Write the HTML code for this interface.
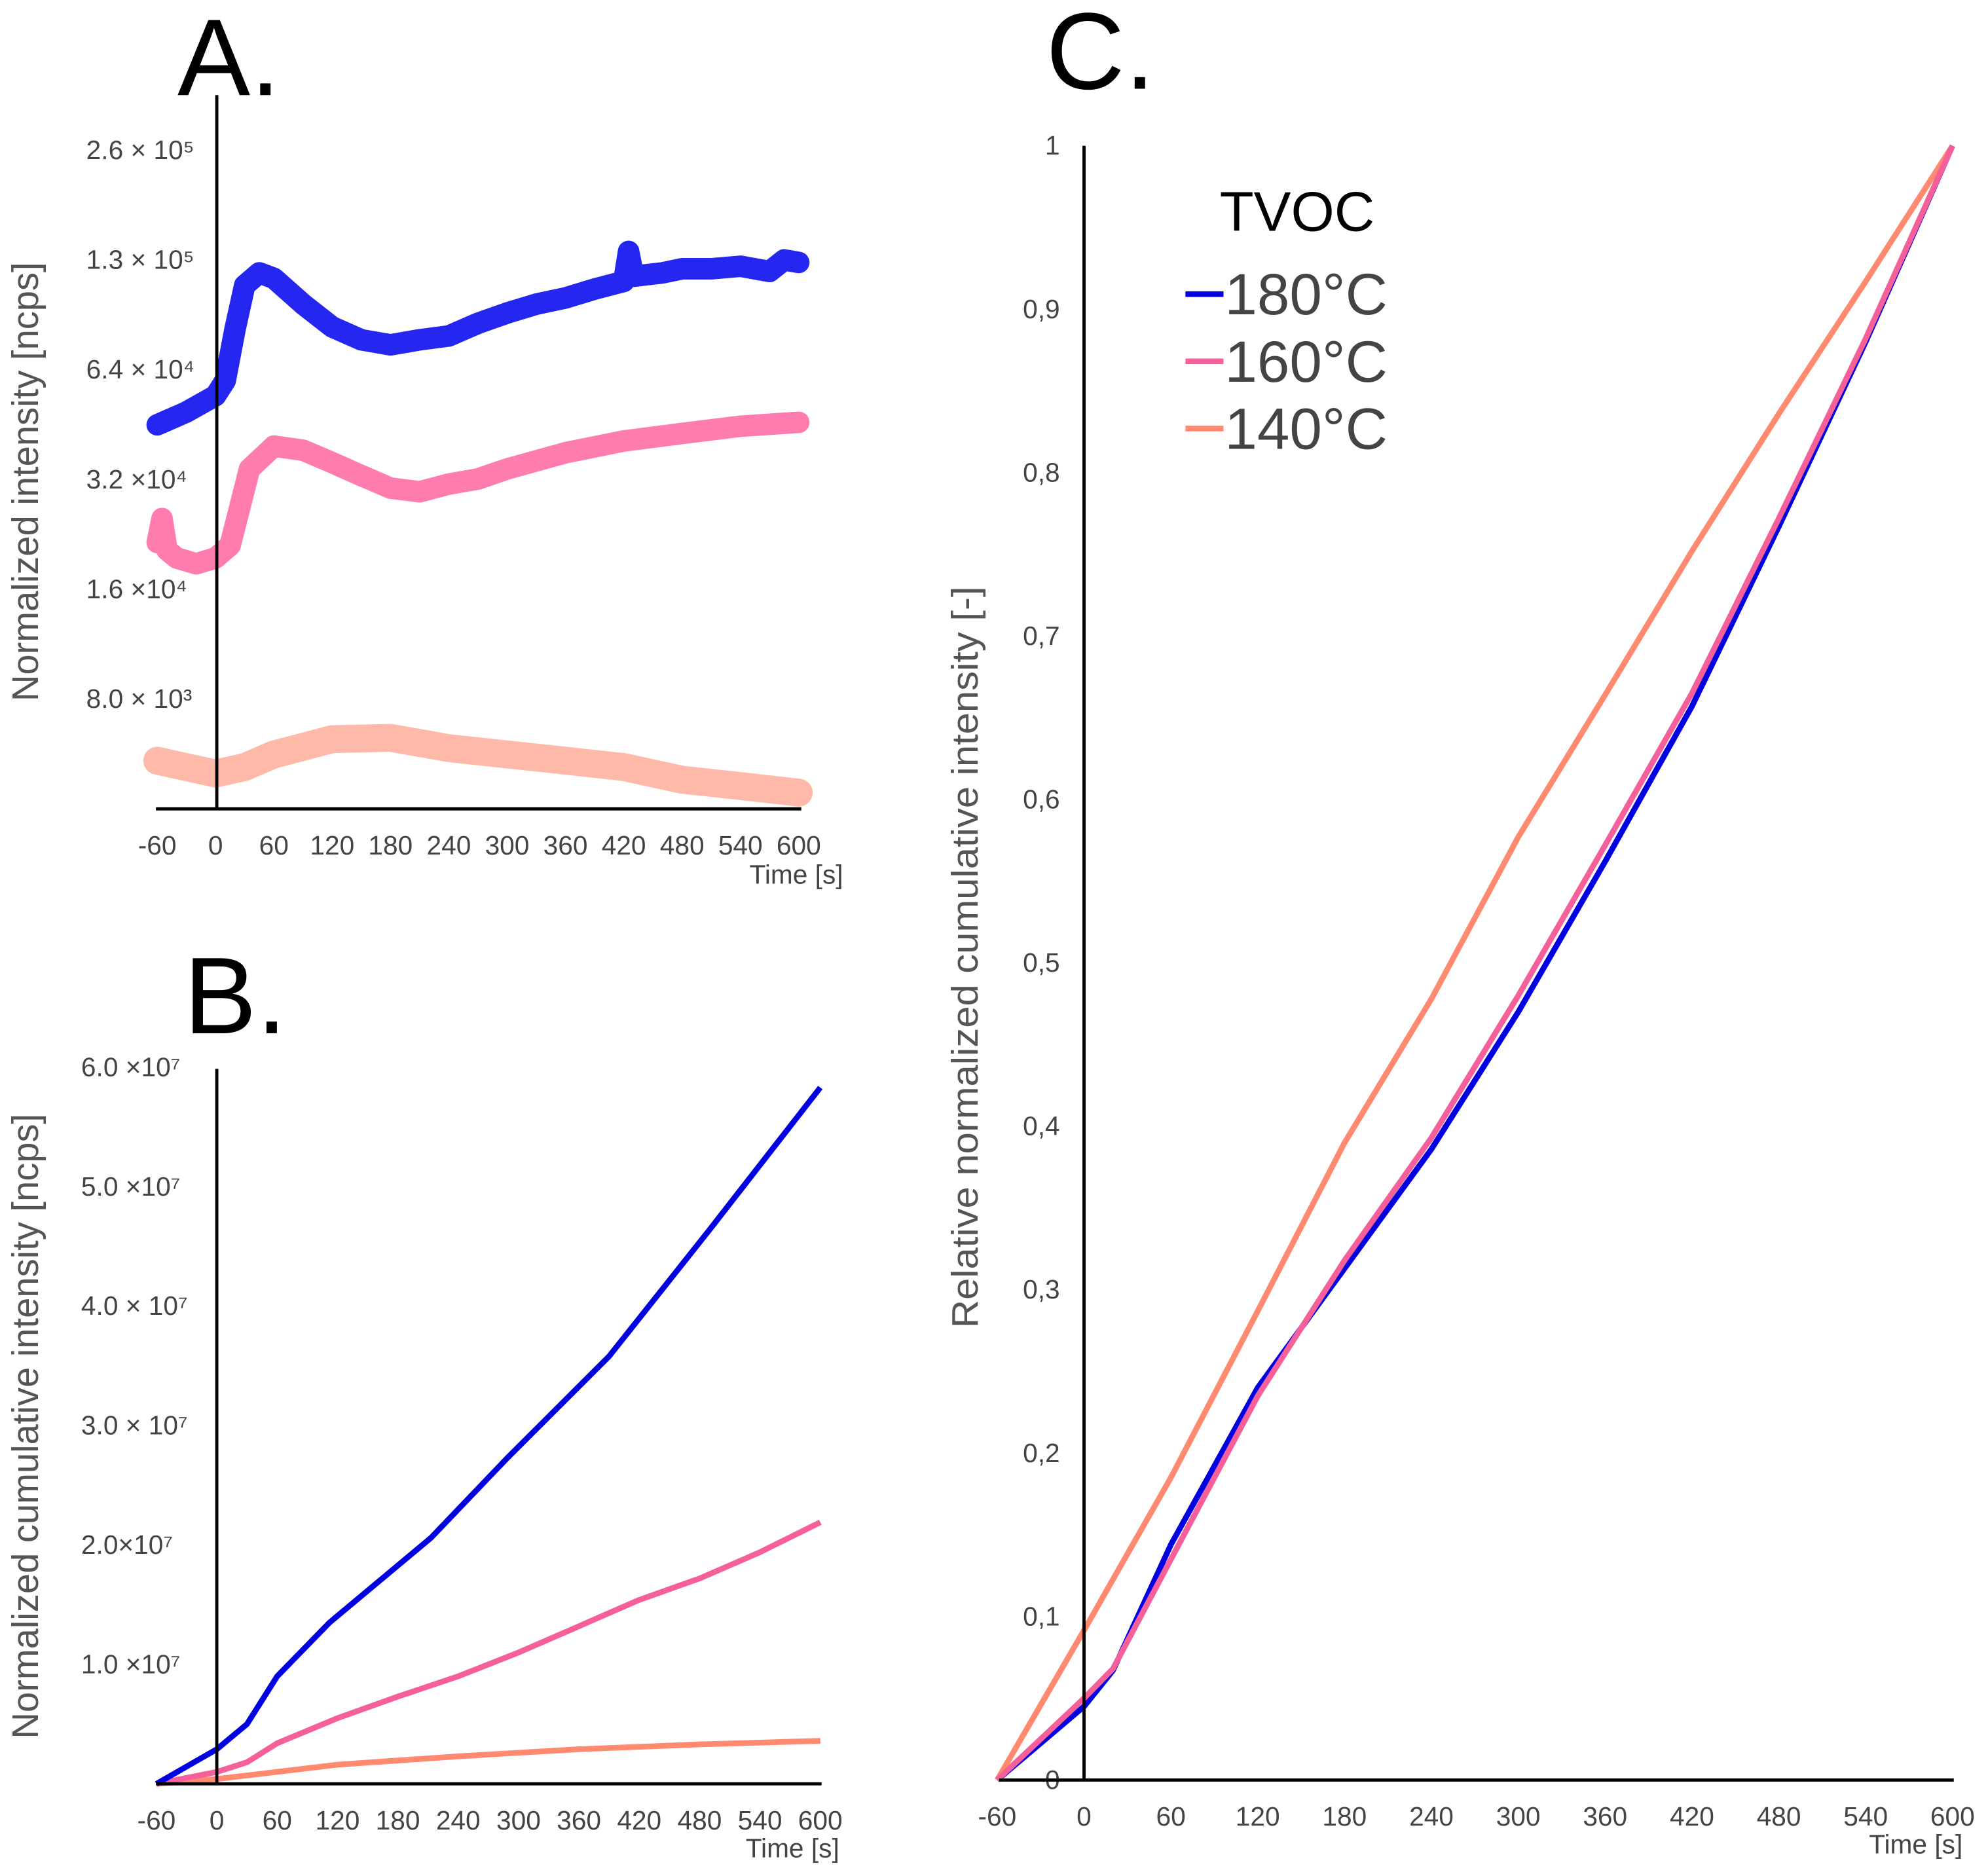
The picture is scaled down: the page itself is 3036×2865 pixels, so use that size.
<!DOCTYPE html>
<html><head><meta charset="utf-8"><style>
html,body{margin:0;padding:0;background:#fff}
svg{display:block}
text{font-family:"Liberation Sans",sans-serif}
.tk{fill:#444;font-size:21px}
</style></head><body>
<svg id="fig" width="3036" height="2865" viewBox="0 0 1568 1479.7" preserveAspectRatio="none" xmlns="http://www.w3.org/2000/svg">
<g id="A"></g>
<g id="B"></g>
<g id="C"></g>
</svg>
<script>
// ---- Panel A data (log scale, ncps) ----
const aBlueT=[-60,-30,0,10,20,30,45,60,90,120,150,180,210,240,270,300,330,360,390,420,425,430,460,480,510,540,570,585,600];
const aBlueV=[45200,49000,54300,59800,82400,109000,118000,114000,96800,83800,77300,74900,77300,79200,85800,91500,96800,100700,106500,111700,135000,115400,118000,121000,121000,123000,119000,128000,126000];
const aPinkT=[-60,-55,-50,-40,-20,0,15,25,35,60,90,120,150,180,210,240,270,300,360,420,480,540,600];
const aPinkV=[21500,25000,20500,19500,18800,19500,21100,26900,34200,39500,38500,35600,32800,30300,29600,31100,32100,34200,37900,40800,42800,44800,45900];
const aSalT=[-60,0,30,60,120,180,240,300,360,420,480,540,600];
const aSalV=[5420,5000,5210,5640,6210,6260,5870,5640,5420,5210,4810,4620,4430];
const aYTicks=["2.6 × 10⁵","1.3 × 10⁵","6.4 × 10⁴","3.2 ×10⁴","1.6 ×10⁴","8.0 × 10³"];
const aYVals=[256000,128000,64000,32000,16000,8000];
// ---- Panel B data (ncps) ----
const bBlueT=[-60,0,30,60,112,213,289,390,490,600];
const bBlueV=[0,0.29e7,0.5e7,0.9e7,1.35e7,2.06e7,2.73e7,3.58e7,4.64e7,5.83e7];
const bPinkT=[-60,0,30,60,120,180,240,300,360,420,480,540,600];
const bPinkV=[0,0.1e7,0.18e7,0.34e7,0.55e7,0.73e7,0.9e7,1.1e7,1.32e7,1.54e7,1.72e7,1.94e7,2.19e7];
const bSalT=[-60,0,120,240,360,480,600];
const bSalV=[0,0.04e7,0.16e7,0.23e7,0.29e7,0.33e7,0.36e7];
const bYTicks=["6.0 ×10⁷","5.0 ×10⁷","4.0 × 10⁷","3.0 × 10⁷","2.0×10⁷","1.0 ×10⁷"];
const bYVals=[6e7,5e7,4e7,3e7,2e7,1e7];
// ---- Panel C data (relative) ----
const cT=[-60,0,20,60,120,180,240,300,360,420,480,540,600];
const c180=[0,0.045,0.067,0.144,0.24,0.313,0.386,0.47,0.562,0.657,0.767,0.88,1];
const c160=[0,0.05,0.068,0.135,0.235,0.318,0.393,0.48,0.572,0.665,0.772,0.882,1];
const cSalT=[-60,0,60,120,180,240,300,360,420,480,540,600];
const c140=[0,0.0916,0.185,0.287,0.39,0.478,0.577,0.664,0.752,0.836,0.917,1];
const cYTicks=["1","0,9","0,8","0,7","0,6","0,5","0,4","0,3","0,2","0,1","0"];
const cYVals=[1,0.9,0.8,0.7,0.6,0.5,0.4,0.3,0.2,0.1,0];
const xTicks=[-60,0,60,120,180,240,300,360,420,480,540,600];

const NS="http://www.w3.org/2000/svg";
function mk(parent,tag,attrs,txt){const e=document.createElementNS(NS,tag);for(const k in attrs)e.setAttribute(k,attrs[k]);if(txt!==undefined)e.textContent=txt;parent.appendChild(e);return e;}
function pts(T,V,fx,fy){return T.map((t,i)=>fx(t).toFixed(1)+","+fy(V[i]).toFixed(1)).join(" ");}

// Panel A
const A=document.getElementById('A');
const axA=t=>170+t*460/600;
const ayA=v=>638-86.6*Math.log2(v/4000);
let e;
e=mk(A,'text',{x:140,y:75,'font-size':86},'A.');


e=mk(A,'text',{transform:'translate(30,380) rotate(-90)','text-anchor':'middle','font-size':29,fill:'#555'},'Normalized intensity [ncps]');


aYTicks.forEach((s,i)=>{e=mk(A,'text',{x:68,y:ayA(aYVals[i])+7,class:'tk'},s);

});
xTicks.forEach(t=>{e=mk(A,'text',{x:axA(t),y:674,class:'tk','text-anchor':'middle'},String(t));

});
e=mk(A,'text',{x:665,y:697,class:'tk','text-anchor':'end'},'Time [s]');


[[aSalT,aSalV,'#ff8a70',22,0.6,'series-140c'],[aPinkT,aPinkV,'#ff5c9a',17,0.8,'series-160c'],[aBlueT,aBlueV,'#0000ee',17,0.85,'series-180c']].forEach(s=>{
e=mk(A,'polyline',{points:pts(s[0],s[1],axA,ayA),fill:'none',stroke:s[2],'stroke-width':s[3],'stroke-opacity':s[4],'stroke-linejoin':'round','stroke-linecap':'round'});

});
e=mk(A,'line',{x1:171,y1:75,x2:171,y2:639,stroke:'#000','stroke-width':2.5});


e=mk(A,'line',{x1:123,y1:638,x2:632,y2:638,stroke:'#000','stroke-width':2.5});



// Panel B
const B=document.getElementById('B');
const axB=t=>171+t*476/600;
const ayB=v=>1407-v*94.2/1e7;
e=mk(B,'text',{x:145,y:815,'font-size':86},'B.');


e=mk(B,'text',{transform:'translate(30,1125) rotate(-90)','text-anchor':'middle','font-size':29,fill:'#555'},'Normalized cumulative intensity [ncps]');


bYTicks.forEach((s,i)=>{e=mk(B,'text',{x:64,y:ayB(bYVals[i])+7,class:'tk'},s);

});
xTicks.forEach(t=>{e=mk(B,'text',{x:axB(t),y:1443,class:'tk','text-anchor':'middle'},String(t));

});
e=mk(B,'text',{x:662,y:1465,class:'tk','text-anchor':'end'},'Time [s]');


[[bSalT,bSalV,'#ff8a70','series-140c'],[bPinkT,bPinkV,'#f5609a','series-160c'],[bBlueT,bBlueV,'#0000e0','series-180c']].forEach(s=>{
e=mk(B,'polyline',{points:pts(s[0],s[1],axB,ayB),fill:'none',stroke:s[2],'stroke-width':4.5,'stroke-linejoin':'round'});

});
e=mk(B,'line',{x1:171,y1:843,x2:171,y2:1408,stroke:'#000','stroke-width':2.5});


e=mk(B,'line',{x1:123,y1:1407,x2:648,y2:1407,stroke:'#000','stroke-width':2.5});



// Panel C
const C=document.getElementById('C');
const axC=t=>855+t*685/600;
const ayC=v=>1404-v*1289;
e=mk(C,'text',{x:825,y:70,'font-size':86},'C.');


e=mk(C,'text',{transform:'translate(771,755) rotate(-90)','text-anchor':'middle','font-size':29,fill:'#555',textLength:585,lengthAdjust:'spacingAndGlyphs'},'Relative normalized cumulative intensity [-]');


cYTicks.forEach((s,i)=>{e=mk(C,'text',{x:836,y:ayC(cYVals[i])+7,class:'tk','text-anchor':'end'},s);

});
xTicks.forEach(t=>{e=mk(C,'text',{x:axC(t),y:1440,class:'tk','text-anchor':'middle'},String(t));

});
e=mk(C,'text',{x:1548,y:1462,class:'tk','text-anchor':'end'},'Time [s]');


[[cSalT,c140,'#ff8a70','series-140c'],[cT,c180,'#0000e0','series-180c'],[cT,c160,'#f5609a','series-160c']].forEach(s=>{
e=mk(C,'polyline',{points:pts(s[0],s[1],axC,ayC),fill:'none',stroke:s[2],'stroke-width':4.5,'stroke-linejoin':'round'});

});
e=mk(C,'line',{x1:855,y1:115,x2:855,y2:1405,stroke:'#000','stroke-width':2.5});


e=mk(C,'line',{x1:788,y1:1404,x2:1541,y2:1404,stroke:'#000','stroke-width':2.5});


// legend
const legLabels=["180°C","160°C","140°C"];
const legColors=['#0000e0','#f5609a','#ff8a70'];
e=mk(C,'text',{x:962,y:182,'font-size':44},'TVOC');


legLabels.forEach((s,i)=>{const y=232+i*53;
e=mk(C,'line',{x1:935,y1:y,x2:965,y2:y,stroke:legColors[i],'stroke-width':4.5});


e=mk(C,'text',{x:966,y:y+16,'font-size':46,fill:'#444'},s);

});
</script>
</body></html>
